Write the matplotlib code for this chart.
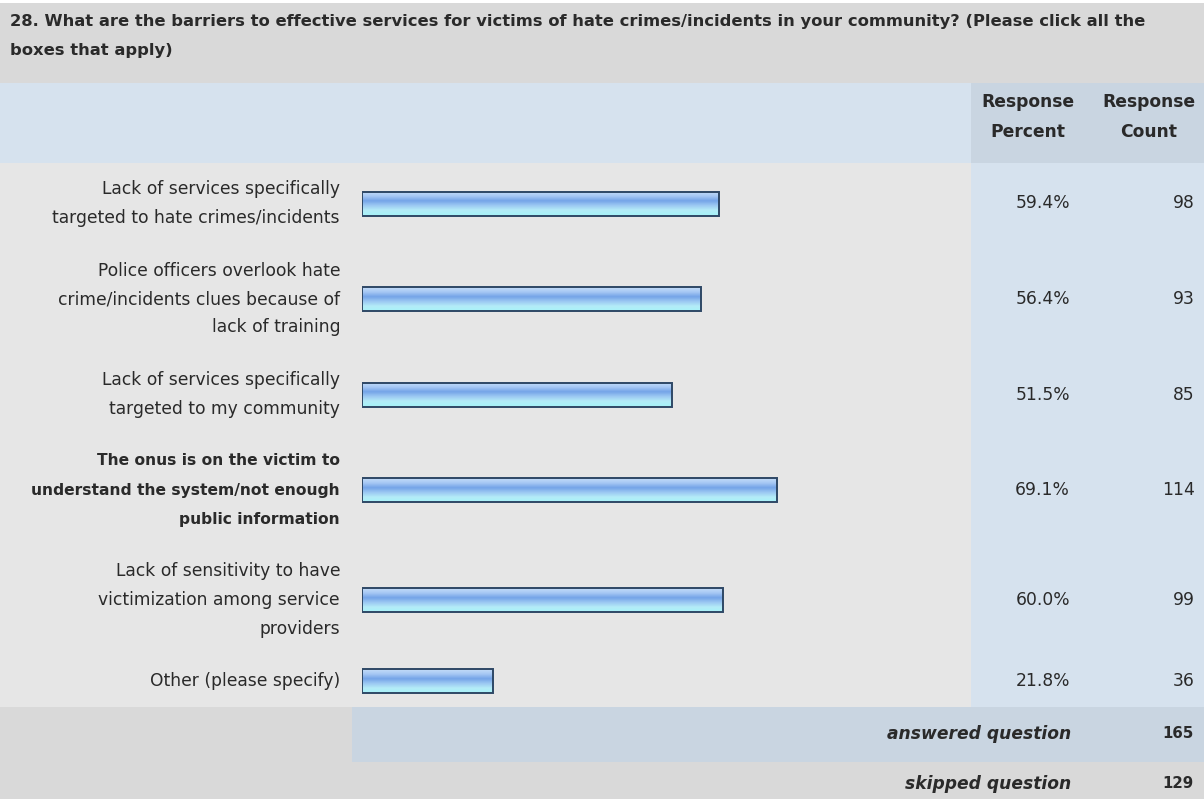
import matplotlib.pyplot as plt
import numpy as np
from matplotlib.patches import Rectangle
from matplotlib.colors import LinearSegmentedColormap

plt.rcParams['font.family'] = ['DejaVu Sans']

# data
question = ("28. What are the barriers to effective services for victims of hate crimes/incidents "
            "in your community? (Please click all the\nboxes that apply)")
answers = ["Lack of services specifically\ntargeted to hate crimes/incidents",
           "Police officers overlook hate\ncrime/incidents clues because of\nlack of training",
           "Lack of services specifically\ntargeted to my community",
           "The onus is on the victim to\nunderstand the system/not enough\npublic information",
           "Lack of sensitivity to have\nvictimization among service\nproviders",
           "Other (please specify)"]
percent = [59.4, 56.4, 51.5, 69.1, 60.0, 21.8]
counts = [98, 93, 85, 114, 99, 36]
bold_rows = [3]
answered = 165
skipped = 129

W, H = 1204, 799
fig = plt.figure(figsize=(W / 100, H / 100), dpi=100, facecolor='white')
bg = fig.add_axes([0, 0, 1, 1])
bg.set_xlim(0, W)
bg.set_ylim(H, 0)
bg.axis('off')

def box(x0, y0, x1, y1, c):
    bg.add_patch(Rectangle((x0, y0), x1 - x0, y1 - y0, facecolor=c, edgecolor='none'))

body_top, body_bot = 163, 707
col_x = 971
box(0, 3, W, 83, '#d9d9d9')
box(0, 83, W, body_top, '#d6e2ee')
box(col_x, 83, W, body_top, '#c9d5e1')
box(0, body_top, col_x, body_bot, '#e6e6e6')
box(col_x, body_top, W, body_bot, '#d6e2ee')
box(0, body_bot, 352, 762, '#d9d9d9')
box(352, body_bot, W, 762, '#c9d5e1')
box(0, 762, W, H, '#d9d9d9')

txt = '#2a2a2a'
fs = 12.3
bg.text(10, 36, question, fontsize=11.75, fontweight='bold', color=txt,
        va='center', ha='left', linespacing=2.2)
bg.text(1028, 117, "Response\nPercent", fontsize=fs, fontweight='bold', color=txt,
        ha='center', va='center', linespacing=1.85)
bg.text(1149, 117, "Response\nCount", fontsize=fs, fontweight='bold', color=txt,
        ha='center', va='center', linespacing=1.85)

# row layout from number of label lines
line_h = 29
nlines = [a.count('\n') + 1 for a in answers]
pad = (body_bot - body_top - line_h * sum(nlines)) / len(answers)
centers = []
y = body_top
for n in nlines:
    h = n * line_h + pad
    centers.append(y + h / 2)
    y += h

for i, (lab, p, c, yc) in enumerate(zip(answers, percent, counts, centers)):
    if i in bold_rows:
        bg.text(340, yc, lab, fontsize=11.2, fontweight='bold', color=txt, ha='right',
                va='center', linespacing=2.2)
    else:
        bg.text(340, yc, lab, fontsize=fs, color=txt, ha='right',
                va='center', linespacing=1.75)
    bg.text(1070, yc, f"{p:.1f}%", fontsize=fs, color=txt,
            ha='right', va='center')
    bg.text(1195, yc, str(c), fontsize=fs, color=txt,
            ha='right', va='center')

bg.text(1071, 734, "answered question", fontsize=fs, fontweight='bold', style='italic',
        color=txt, ha='right', va='center')
bg.text(1194, 734, str(answered), fontsize=10.8, fontweight='bold', color=txt,
        ha='right', va='center')
bg.text(1071, 784, "skipped question", fontsize=fs, fontweight='bold', style='italic',
        color=txt, ha='right', va='center')
bg.text(1194, 784, str(skipped), fontsize=10.8, fontweight='bold', color=txt,
        ha='right', va='center')

# bars
ax = fig.add_axes([362 / W, (H - body_bot) / H, 601 / W, (body_bot - body_top) / H])
ax.patch.set_alpha(0)
ax.axis('off')
grad = LinearSegmentedColormap.from_list(
    'bar', ['#c4dcf8', '#a6c8f4', '#74a4e8', '#9cc8f2', '#b4ecf8', '#a8f2f8'])
g = np.linspace(0, 1, 64).reshape(-1, 1)
bars = ax.barh(centers, percent, height=24, left=0, facecolor='none',
               edgecolor='#2e4866', linewidth=1.4, zorder=3)
for b in bars:
    x0, w = b.get_x(), b.get_width()
    yb, hb = b.get_y(), b.get_height()
    ax.imshow(g, cmap=grad, aspect='auto', origin='upper',
              extent=(x0, x0 + w, yb + hb, yb), zorder=2)
ax.set_xlim(0, 100)
ax.set_ylim(body_bot, body_top)

fig.savefig('out.png', dpi=100)
